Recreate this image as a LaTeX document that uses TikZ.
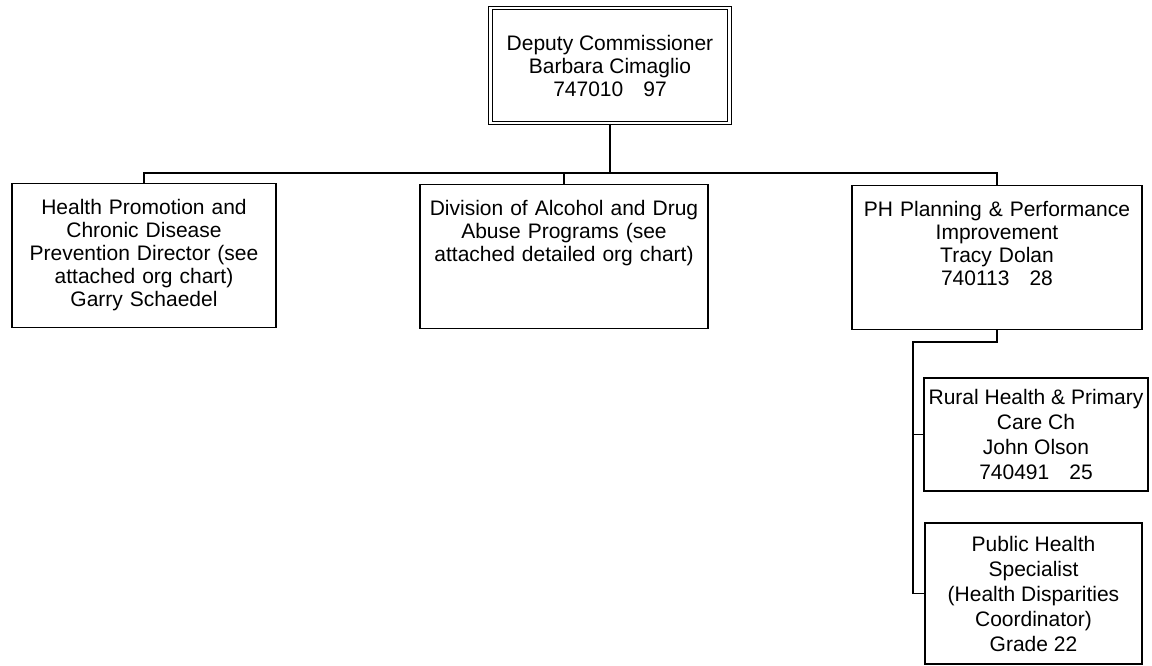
\documentclass[tikz,border=0pt]{standalone}
\usepackage{fontspec}
\newfontfamily\chartfont{Liberation Sans}
\usepackage{tikz}

\begin{document}
\begin{tikzpicture}[x=1pt, y=-1pt, line width=1.3pt]
      \tikzstyle{every node}=[font=\chartfont\fontsize{21}{23}\selectfont]
      \tikzstyle{head}=[draw, double, line width=1.2pt, double distance=2.3pt, align=center, minimum width=239pt, minimum height=115pt]
      \tikzstyle{unit}=[draw, anchor=north, align=center, inner sep=4pt, text height=26.5pt, text depth=109.5pt]
      \tikzstyle{post}=[draw, align=center, inner sep=2pt, font=\chartfont\fontsize{21}{25}\selectfont]
      \useasboundingbox (0,0) rectangle (1152,666);
      \node [head] (dep) at (610,65.5) {Deputy Commissioner\\Barbara Cimaglio\\747010\hspace{20pt}97};
      \node [unit, text width=256pt] (hp) at (144,183) {Health Promotion and\\Chronic Disease\\Prevention Director (see\\attached org chart)\\Garry Schaedel};
      \node [unit, text width=280pt] (div) at (564,184) {Division of Alcohol and Drug\\Abuse Programs (see\\attached detailed org chart)};
      \node [unit, text width=282pt] (plan) at (997,185) {PH Planning \& Performance\\Improvement\\Tracy Dolan\\740113\hspace{20pt}28};
      \node [post, minimum width=224pt, minimum height=113pt] (rural) at (1036,434.5) {Rural Health \& Primary\\Care Ch\\John Olson\\740491\hspace{20pt}25};
      \node [post, minimum width=217pt, minimum height=141pt] (spec) at (1033.5,593.5) {Public Health\\Specialist\\(Health Disparities\\Coordinator)\\Grade 22};
      \coordinate (bus) at (610,173);
      \coordinate (spine) at (913,342);
      \draw (dep.south) -- (bus);
      \draw (hp.north) |- (bus) -| (plan.north);
      \draw (div.north) -- (div.north |- bus);
      \draw (plan.south) |- (spine) |- (spec.west);
      \draw (spine |- rural.west) -- (rural.west);
    \end{tikzpicture}
\end{document}
